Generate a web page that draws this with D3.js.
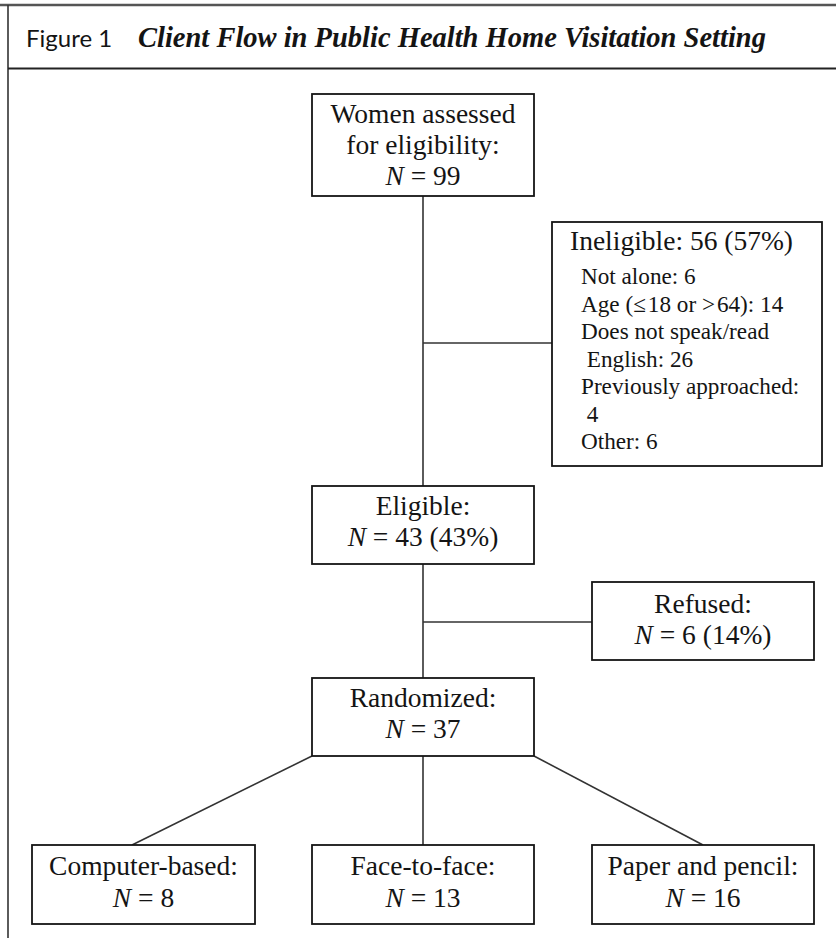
<!DOCTYPE html>
<html>
<head>
<meta charset="utf-8">
<script src="https://cdn.jsdelivr.net/npm/d3@7"></script>
<style>
  html, body { margin: 0; padding: 0; background: #fff; }
  svg { display: block; }
</style>
</head>
<body>
<svg id="chart" width="836" height="942"></svg>
<script>
// ---------- DATA ----------
const figureLabel = "Figure 1";
const figureTitle = "Client Flow in Public Health Home Visitation Setting";

const stageNames = ["Women assessed", "for eligibility:"];
const stageLabels = ["Eligible:", "Randomized:"];
const stageN = [99, 43, 37];
const stagePct = [null, 43, null];

const exclusionLabels = ["Ineligible", "Refused:"];
const exclusionN = [56, 6];
const exclusionPct = [57, 14];

const reasonLines = ["Not alone: 6", "Age (\u2264\u200a18 or >\u200a64): 14", "Does not speak/read", "\u00a0English: 26", "Previously approached:", "\u00a04", "Other: 6"];

const armLabels = ["Computer-based:", "Face-to-face:", "Paper and pencil:"];
const armN = [8, 13, 16];

// ---------- LAYOUT ----------
const W = 836, H = 942;
const svg = d3.select("#chart");
const serif = "'Liberation Serif', 'Times New Roman', serif";
const ink = "#141414";
const mainSize = 27.5;

// column/row scales
const xCol = d3.scaleOrdinal().domain(["left", "center", "right"]).range([32, 312, 592]);
const yRow = d3.scaleOrdinal().domain(["assessed", "ineligible", "eligible", "refused", "randomized", "arms"])
  .range([94, 222, 486, 582, 678, 845]);
const boxW = 222;
const trunkX = 423;

// frame
svg.append("line").attr("x1", 0).attr("x2", W).attr("y1", 5).attr("y2", 5)
  .attr("stroke", "#555").attr("stroke-width", 2.5);
svg.append("line").attr("x1", 8).attr("x2", 8).attr("y1", 5).attr("y2", 938)
  .attr("stroke", "#333").attr("stroke-width", 1.6);
svg.append("line").attr("x1", 8).attr("x2", W).attr("y1", 68.5).attr("y2", 68.5)
  .attr("stroke", "#222").attr("stroke-width", 1.8);

// header
svg.append("text").attr("x", 26).attr("y", 47)
  .attr("font-family", "Lato, 'Open Sans', sans-serif").attr("font-size", 24)
  .attr("fill", ink).text(figureLabel);
svg.append("text").attr("x", 138).attr("y", 47)
  .attr("font-family", serif).attr("font-size", 28.5).attr("font-style", "italic").attr("font-weight", "bold")
  .attr("fill", ink).text(figureTitle);

// connectors (drawn first)
const line = d3.line();
const conn = svg.append("g").attr("fill", "none").attr("stroke", "#333").attr("stroke-width", 1.6);
const yA = yRow("assessed"), yE = yRow("eligible"), yR = yRow("randomized"), yArms = yRow("arms");
conn.append("path").attr("d", line([[trunkX, yA + 102], [trunkX, yE]]));
conn.append("path").attr("d", line([[trunkX, 343], [552, 343]]));
conn.append("path").attr("d", line([[trunkX, yE + 78], [trunkX, yR]]));
conn.append("path").attr("d", line([[trunkX, 622], [xCol("right"), 622]]));
conn.append("path").attr("d", line([[trunkX, yR + 78], [trunkX, yArms]]));
conn.append("path").attr("d", line([[xCol("center"), yR + 78], [132, yArms]]));
conn.append("path").attr("d", line([[xCol("center") + boxW, yR + 78], [703, yArms]]));

// box helper
function box(x, y, w, h) {
  svg.append("rect").attr("x", x).attr("y", y).attr("width", w).attr("height", h)
    .attr("fill", "#fff").attr("stroke", ink).attr("stroke-width", 1.8);
}
function centerText(cx, y, str, size) {
  return svg.append("text").attr("x", cx).attr("y", y).attr("text-anchor", "middle")
    .attr("font-family", serif).attr("font-size", size || mainSize).attr("fill", ink).text(str);
}
function nText(cx, y, n, pct, size) {
  const t = svg.append("text").attr("x", cx).attr("y", y).attr("text-anchor", "middle")
    .attr("font-family", serif).attr("font-size", size || mainSize).attr("fill", ink);
  t.append("tspan").attr("font-style", "italic").text("N");
  t.append("tspan").text(" = " + n + (pct != null ? " (" + pct + "%)" : ""));
  return t;
}

// Stage 1: assessed
box(xCol("center"), yA, boxW, 102);
centerText(trunkX, yA + 29, stageNames[0]);
centerText(trunkX, yA + 60, stageNames[1]);
nText(trunkX, yA + 91, stageN[0], stagePct[0]);

// Ineligible box
box(552, yRow("ineligible"), 270, 244);
svg.append("text").attr("x", 570).attr("y", yRow("ineligible") + 28)
  .attr("font-family", serif).attr("font-size", mainSize).attr("fill", ink)
  .text(exclusionLabels[0] + ": " + exclusionN[0] + " (" + exclusionPct[0] + "%)");
svg.append("g").selectAll("text").data(reasonLines).join("text")
  .attr("x", 581).attr("y", (d, i) => yRow("ineligible") + 62 + i * 27.5)
  .attr("font-family", serif).attr("font-size", 23.2).attr("fill", ink)
  .text(d => d);

// Eligible
box(xCol("center"), yE, boxW, 78);
centerText(trunkX, yE + 29, stageLabels[0]);
nText(trunkX, yE + 60, stageN[1], stagePct[1]);

// Refused
const yRef = yRow("refused");
box(xCol("right"), yRef, boxW, 78);
centerText(xCol("right") + boxW / 2, yRef + 31, exclusionLabels[1]);
nText(xCol("right") + boxW / 2, yRef + 62, exclusionN[1], exclusionPct[1]);

// Randomized
box(xCol("center"), yR, boxW, 78);
centerText(trunkX, yR + 29, stageLabels[1]);
nText(trunkX, yR + 60, stageN[2], stagePct[2]);

// Arms
const armX = ["left", "center", "right"].map(k => xCol(k));
armLabels.forEach((lab, i) => {
  const x = armX[i];
  const w = i === 0 ? 223 : boxW;
  box(x, yArms, w, 79);
  centerText(x + w / 2, yArms + 30, lab);
  nText(x + w / 2, yArms + 62, armN[i], null);
});
</script>
</body>
</html>
